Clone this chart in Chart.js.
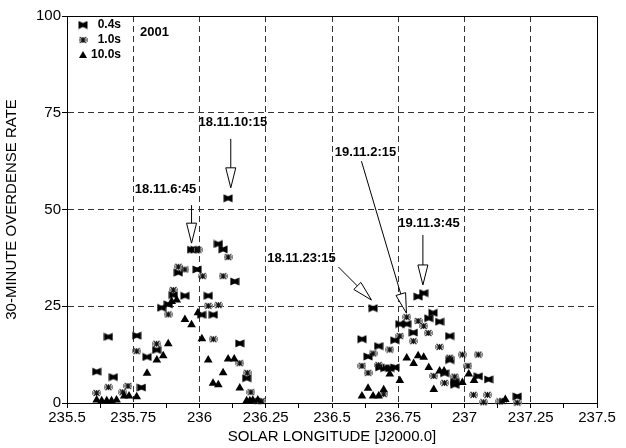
<!DOCTYPE html>
<html>
<head>
<meta charset="utf-8">
<script src="https://cdn.jsdelivr.net/npm/chart.js@4.4.1/dist/chart.umd.min.js"></script>
<style>
  body { margin: 0; background: #fff; }
  #rate { display: block; }
</style>
</head>
<body>
<canvas id="rate" width="626" height="448"></canvas>
<script>
// values: solar longitude (J2000.0) and 30-minute overdense rate
const lon04 = [235.612, 235.656, 235.675, 235.763, 235.781, 235.802, 235.838, 235.857, 235.882, 235.901,
  235.920, 235.945, 235.970, 235.983, 235.991, 236.008, 236.033, 236.052, 236.071, 236.089,
  236.108, 236.133, 236.152, 236.178,
  236.613, 236.636, 236.655, 236.676, 236.680, 236.699, 236.718, 236.737, 236.737, 236.756,
  236.782, 236.807, 236.825, 236.846, 236.865, 236.881, 236.906, 236.925, 236.944, 236.944,
  236.963, 236.963, 237.052, 237.091, 237.199];
const rate04 = [8.1, 17.1, 6.7, 17.4, 4.0, 11.9, 13.7, 24.6, 25.5, 27.9,
  33.7, 27.7, 39.6, 39.6, 34.5, 22.8, 27.7, 22.8, 41.1, 39.7,
  52.9, 31.4, 15.4, 6.4,
  16.5, 12.0, 24.5, 14.7, 9.2, 9.0, 9.0, 9.2, 16.2, 20.4,
  20.4, 18.2, 27.5, 28.4, 21.9, 23.3, 21.0, 7.7, 17.3, 11.1,
  5.5, 4.7, 6.9, 6.1, 1.7];

const lon10 = [235.612, 235.656, 235.710, 235.730, 235.763, 235.838, 235.882, 235.901, 235.920, 235.945,
  235.995, 236.012, 236.033, 236.052, 236.071, 236.089, 236.108, 236.152, 236.180, 236.194,
  236.220, 236.235,
  236.613, 236.636, 236.655, 236.676, 236.695, 236.718, 236.756, 236.782, 236.807, 236.825,
  236.846, 236.863, 236.884, 236.906, 236.925, 236.944, 236.963, 236.992, 237.013, 237.034,
  237.052, 237.072, 237.087, 237.133, 237.144, 237.199];
const rate10 = [2.6, 4.1, 2.8, 4.4, 13.4, 15.3, 22.9, 29.2, 35.2, 34.5,
  39.6, 32.8, 25.1, 16.5, 25.3, 32.8, 37.7, 10.3, 7.8, 2.8,
  0.5, 0.5,
  9.6, 7.8, 12.8, 9.8, 2.3, 13.8, 17.3, 22.2, 16.0, 21.2,
  19.9, 18.1, 7.0, 14.5, 5.2, 11.7, 6.8, 12.5, 9.6, 2.1,
  12.5, 0.2, 2.1, 0.4, 0.5, 0.1];

const lon100 = [235.612, 235.631, 235.650, 235.668, 235.687, 235.716, 235.734, 235.763, 235.802, 235.839,
  235.863, 235.882, 235.895, 235.914, 235.945, 235.970, 235.994, 236.009, 236.033, 236.051,
  236.071, 236.089, 236.108, 236.131, 236.152, 236.178, 236.190, 236.201, 236.220,
  236.613, 236.636, 236.655, 236.676, 236.695, 236.718, 236.756, 236.782, 236.808, 236.825,
  236.846, 236.865, 236.884, 236.906, 236.923, 236.992, 237.016, 237.036, 237.154];
const rate100 = [0.8, 0.6, 0.6, 0.6, 0.8, 1.8, 1.8, 1.6, 7.7, 11.1,
  12.2, 15.3, 26.2, 26.6, 21.6, 20.2, 23.3, 16.6, 11.1, 5.1,
  4.7, 7.8, 11.4, 11.4, 3.9, 0.6, 0.6, 0.7, 0.8,
  1.8, 3.8, 1.8, 1.8, 3.4, 7.5, 5.8, 11.6, 10.2, 12.2,
  11.8, 9.2, 3.5, 8.3, 8.3, 5.3, 7.5, 5.8, 0.9];

const seriesNames = ['0.4s', '1.0s', '10.0s'];
const yearLabel = '2001';

// arrows: text, and the point (lon, rate) the arrow head touches
const notes = [
  { text: '18.11.6:45',  lon: 235.970, rate: 41.3, from: [0, -38],     label: [-26, -54] },
  { text: '18.11.10:15', lon: 236.118, rate: 55.6, from: [0, -49],     label: [2, -65] },
  { text: '18.11.23:15', lon: 236.649, rate: 26.6, from: [-33, -33],   label: [-70, -42] },
  { text: '19.11.2:15',  lon: 236.781, rate: 23.2, from: [-45, -152],  label: [-41, -161] },
  { text: '19.11.3:45',  lon: 236.843, rate: 30.5, from: [0, -50],     label: [6, -62] },
];

const FONT = "'Liberation Sans', Arial, Helvetica, sans-serif";

function pairs(xs, ys) {
  return xs.map((x, i) => ({ x: x, y: ys[i] }));
}

function bowtie() {
  const c = document.createElement('canvas');
  c.width = 10; c.height = 9;
  const g = c.getContext('2d');
  g.fillStyle = '#000';
  g.beginPath();
  g.moveTo(0.5, 0.5); g.lineTo(5, 2.5); g.lineTo(9.5, 0.5);
  g.lineTo(9.5, 8.5); g.lineTo(5, 6.5); g.lineTo(0.5, 8.5);
  g.closePath();
  g.fill();
  return c;
}

function starMark() {
  const c = document.createElement('canvas');
  c.width = 9; c.height = 8;
  const g = c.getContext('2d');
  g.strokeStyle = '#111';
  g.lineWidth = 1.1;
  g.beginPath();
  g.moveTo(1.5, 1); g.lineTo(7.5, 7);
  g.moveTo(7.5, 1); g.lineTo(1.5, 7);
  g.moveTo(1, 4); g.lineTo(8, 4);
  g.moveTo(4.5, 1); g.lineTo(4.5, 7);
  g.stroke();
  g.strokeStyle = '#888';
  g.lineWidth = 1;
  g.beginPath();
  g.moveTo(0.5, 2); g.lineTo(0.5, 6);
  g.moveTo(8.5, 2); g.lineTo(8.5, 6);
  g.stroke();
  return c;
}

const markBow = bowtie();
const markStar = starMark();

function isQuarter(v) {
  return Math.abs(v * 4 - Math.round(v * 4)) < 1e-6;
}

const overlay = {
  id: 'overlay',
  afterDraw(chart) {
    const ctx = chart.ctx;
    const a = chart.chartArea;
    const xs = chart.scales.x, ys = chart.scales.y;
    ctx.save();

    // frame top and right
    ctx.strokeStyle = '#000';
    ctx.lineWidth = 1;
    ctx.beginPath();
    ctx.moveTo(a.left, a.top + 0.5);
    ctx.lineTo(a.right + 0.5, a.top + 0.5);
    ctx.lineTo(a.right + 0.5, a.bottom);
    ctx.stroke();

    // legend
    const marks = [markBow, markStar, null];
    ctx.font = 'bold 12px ' + FONT;
    ctx.fillStyle = '#000';
    ctx.textBaseline = 'middle';
    ctx.textAlign = 'right';
    seriesNames.forEach((name, i) => {
      const y = a.top + 9 + i * 15;
      const mx = a.left + 16;
      if (marks[i]) {
        ctx.drawImage(marks[i], mx - marks[i].width / 2, y - marks[i].height / 2);
      } else {
        ctx.beginPath();
        ctx.moveTo(mx - 4, y + 3);
        ctx.lineTo(mx + 4, y + 3);
        ctx.lineTo(mx, y - 4);
        ctx.closePath();
        ctx.fill();
      }
      ctx.fillText(name, a.left + 54, y);
    });
    ctx.textAlign = 'left';
    ctx.font = 'bold 13px ' + FONT;
    ctx.fillText(yearLabel, a.left + 73, a.top + 16);

    // arrow notes
    ctx.font = 'bold 13px ' + FONT;
    ctx.textAlign = 'center';
    notes.forEach(n => {
      const tx = xs.getPixelForValue(n.lon);
      const ty = ys.getPixelForValue(n.rate);
      const sx = tx + n.from[0], sy = ty + n.from[1];
      const len = Math.hypot(tx - sx, ty - sy);
      const ux = (tx - sx) / len, uy = (ty - sy) / len;
      const head = 20, half = 5;
      const bx = tx - ux * head, by = ty - uy * head;
      ctx.strokeStyle = '#000';
      ctx.lineWidth = 1;
      ctx.beginPath();
      ctx.moveTo(sx, sy);
      ctx.lineTo(bx, by);
      ctx.stroke();
      ctx.beginPath();
      ctx.moveTo(tx, ty);
      ctx.lineTo(bx - uy * half, by + ux * half);
      ctx.lineTo(bx + uy * half, by - ux * half);
      ctx.closePath();
      ctx.fillStyle = '#fff';
      ctx.fill();
      ctx.stroke();
      ctx.fillStyle = '#000';
      ctx.fillText(n.text, tx + n.label[0], ty + n.label[1]);
    });
    ctx.restore();
  }
};

const canvas = document.querySelector('#rate');
const chart = new Chart(canvas.getContext('2d'), {
  type: 'scatter',
  data: {
    datasets: [
      { label: seriesNames[2], data: pairs(lon100, rate100), pointStyle: 'triangle',
        pointRadius: 5, backgroundColor: '#000', borderColor: '#000', borderWidth: 0, clip: false },
      { label: seriesNames[1], data: pairs(lon10, rate10), pointStyle: markStar, clip: false },
      { label: seriesNames[0], data: pairs(lon04, rate04), pointStyle: markBow, clip: false },
    ]
  },
  options: {
    responsive: false,
    animation: false,
    layout: { padding: { left: 0, top: 16, right: 29, bottom: 0 } },
    plugins: {
      legend: { display: false },
      tooltip: { enabled: false },
    },
    scales: {
      x: {
        type: 'linear',
        min: 235.5,
        max: 237.5,
        afterFit(axis) { axis.height = 45; },
        border: { display: true, color: '#000', width: 1, dash: [6, 4] },
        grid: {
          color(ctx) {
            const v = ctx.tick ? ctx.tick.value : 0;
            return isQuarter(v) && v > 235.5 && v < 237.5 ? '#333' : 'rgba(0,0,0,0)';
          },
          tickColor: '#000',
          tickLength: 5,
          lineWidth: 1,
        },
        ticks: {
          stepSize: 0.125,
          autoSkip: false,
          maxRotation: 0,
          padding: 1,
          color: '#000',
          font: { family: FONT, size: 15 },
          callback(v) {
            return isQuarter(v) ? String(Math.round(v * 100) / 100) : '';
          }
        },
        title: {
          display: true,
          text: 'SOLAR LONGITUDE [J2000.0]',
          color: '#000',
          font: { family: FONT, size: 15 },
          padding: { top: 0, bottom: 2 },
        }
      },
      y: {
        min: 0,
        max: 100,
        afterFit(axis) { axis.width = 67; },
        border: { display: true, color: '#000', width: 1, dash: [6, 4] },
        grid: {
          color(ctx) {
            const v = ctx.tick ? ctx.tick.value : 0;
            return v > 0 && v < 100 ? '#333' : 'rgba(0,0,0,0)';
          },
          tickColor: '#000',
          tickLength: 5,
          lineWidth: 1,
        },
        ticks: {
          stepSize: 25,
          padding: 1,
          color: '#000',
          font: { family: FONT, size: 15 },
        },
        title: {
          display: true,
          text: '30-MINUTE OVERDENSE RATE',
          color: '#000',
          font: { family: FONT, size: 15 },
          padding: { top: 3, bottom: 0 },
        }
      }
    }
  },
  plugins: [overlay]
});
</script>
</body>
</html>
